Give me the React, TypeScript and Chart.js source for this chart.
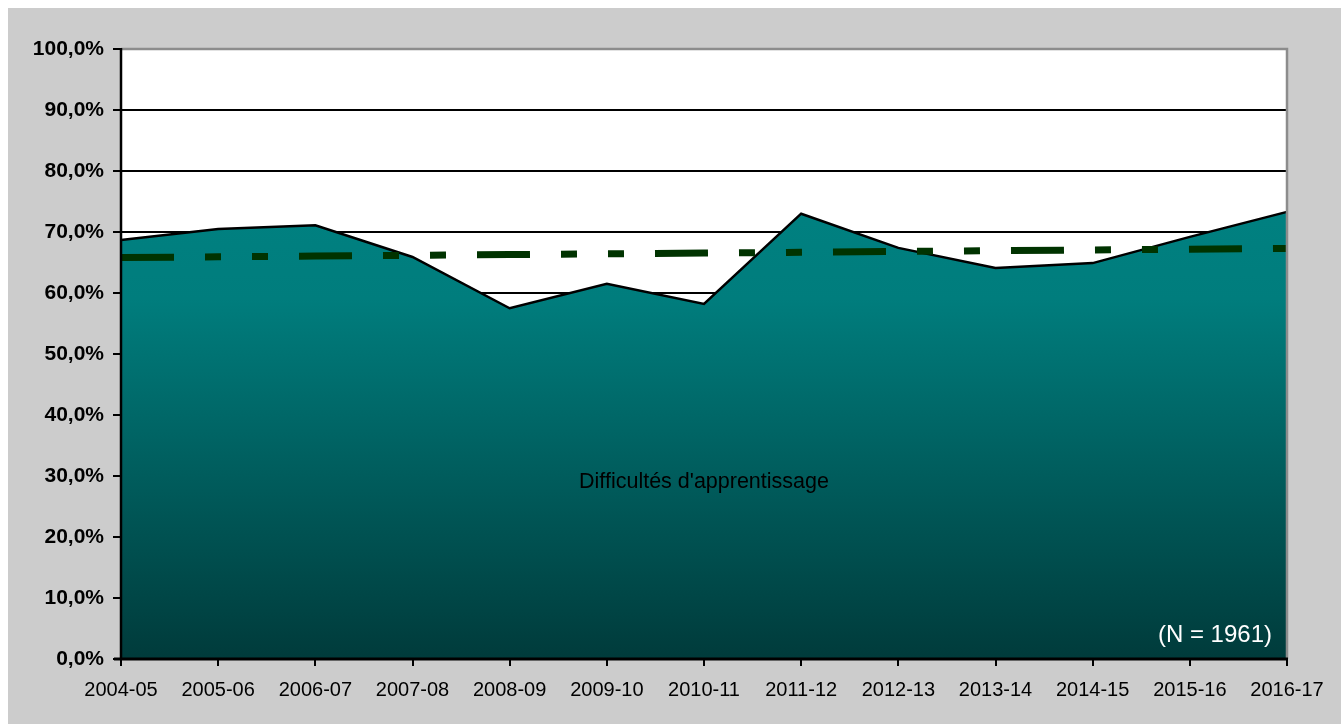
import React, { useEffect, useRef } from "react";
import { Chart, registerables } from "chart.js";

Chart.register(...registerables);

const categories = [
  "2004-05", "2005-06", "2006-07", "2007-08", "2008-09", "2009-10", "2010-11",
  "2011-12", "2012-13", "2013-14", "2014-15", "2015-16", "2016-17",
];

const difficultesValues = [68.7, 70.5, 71.1, 65.9, 57.5, 61.5, 58.2, 73.0, 67.4, 64.1, 64.9, 69.2, 73.3];

const trendValues = [65.8, 65.93, 66.05, 66.18, 66.3, 66.43, 66.55, 66.68, 66.8, 66.93, 67.05, 67.18, 67.3];

const yTickLabels = [
  "0,0%", "10,0%", "20,0%", "30,0%", "40,0%", "50,0%",
  "60,0%", "70,0%", "80,0%", "90,0%", "100,0%",
];

const areaLabel = "Difficultés d'apprentissage";
const noteLabel = "(N = 1961)";

const FONT = "'Liberation Sans', Arial, sans-serif";

export default function App() {
  const canvasRef = useRef<HTMLCanvasElement | null>(null);

  useEffect(() => {
    const canvas = canvasRef.current;
    if (!canvas) return;

    const framePlugin = {
      id: "framePlugin",
      beforeDraw(chart: any) {
        const { ctx, chartArea } = chart;
        ctx.save();
        ctx.fillStyle = "#ffffff";
        ctx.fillRect(chartArea.left, chartArea.top, chartArea.right - chartArea.left, chartArea.bottom - chartArea.top);
        ctx.restore();
      },
      afterDatasetsDraw(chart: any) {
        const { ctx, chartArea } = chart;
        const { left, right, top, bottom } = chartArea;
        ctx.save();
        ctx.strokeStyle = "#8c8c8c";
        ctx.lineWidth = 2.5;
        ctx.beginPath();
        ctx.moveTo(left, top);
        ctx.lineTo(right, top);
        ctx.lineTo(right, bottom);
        ctx.stroke();
        ctx.strokeStyle = "#000000";
        ctx.lineWidth = 2.5;
        ctx.beginPath();
        ctx.moveTo(left, top - 1);
        ctx.lineTo(left, bottom);
        ctx.stroke();
        ctx.lineWidth = 3;
        ctx.beginPath();
        ctx.moveTo(left - 7, bottom);
        ctx.lineTo(right + 1, bottom);
        ctx.stroke();

        const xs = chart.scales.x;
        const ys = chart.scales.y;
        ctx.font = `21.5px ${FONT}`;
        ctx.fillStyle = "#000000";
        ctx.textAlign = "center";
        ctx.textBaseline = "middle";
        const cx = (xs.getPixelForValue(0) + xs.getPixelForValue(categories.length - 1)) / 2;
        ctx.fillText(areaLabel, cx, ys.getPixelForValue(29.0));
        ctx.fillStyle = "#ffffff";
        ctx.textAlign = "right";
        ctx.font = `24px ${FONT}`;
        ctx.fillText(noteLabel, right - 15, ys.getPixelForValue(3.8));
        ctx.restore();
      },
    };

    const chart = new Chart(canvas, {
      type: "line",
      data: {
        labels: categories,
        datasets: [
          {
            label: "Tendance",
            data: trendValues,
            borderColor: "#003300",
            borderWidth: 7,
            borderDash: [53, 31, 16, 31, 16, 31],
            borderCapStyle: "butt",
            fill: false,
            pointRadius: 0,
            tension: 0,
            order: 0,
          },
          {
            label: areaLabel,
            data: difficultesValues,
            borderColor: "#000000",
            borderWidth: 2.5,
            fill: "origin",
            pointRadius: 0,
            tension: 0,
            order: 1,
            backgroundColor: (context: any) => {
              const c = context.chart;
              const area = c.chartArea;
              if (!area) return "#008080";
              const g = c.ctx.createLinearGradient(0, area.top, 0, area.bottom);
              g.addColorStop(0, "#008080");
              g.addColorStop(0.28, "#008080");
              g.addColorStop(0.41, "#007d7d");
              g.addColorStop(1, "#003b3b");
              return g;
            },
          },
        ],
      },
      options: {
        animation: false,
        responsive: false,
        layout: { padding: { left: 0, top: 41, right: 54, bottom: 0 } },
        plugins: {
          legend: { display: false },
          tooltip: { enabled: false },
        },
        scales: {
          x: {
            offset: false,
            border: { display: false },
            grid: {
              drawOnChartArea: false,
              drawTicks: true,
              tickLength: 7,
              tickColor: "#000000",
              lineWidth: 2,
            },
            ticks: {
              color: "#000000",
              font: { family: FONT, size: 20 },
              padding: 12,
              maxRotation: 0,
              autoSkip: false,
            },
            afterFit(scale: any) {
              scale.height = 65;
            },
          },
          y: {
            min: 0,
            max: 100,
            border: { display: false },
            grid: {
              color: (ctx: any) =>
                ctx.tick && (ctx.tick.value === 0 || ctx.tick.value === 100) ? "rgba(0,0,0,0)" : "#000000",
              tickColor: "#000000",
              lineWidth: 2,
              tickLength: 8,
            },
            ticks: {
              stepSize: 10,
              color: "#000000",
              font: { family: FONT, size: 21, weight: "bold" },
              padding: 9,
              callback: (_v: any, i: number) => yTickLabels[i],
            },
            afterFit(scale: any) {
              scale.width = 113;
            },
          },
        },
      },
      plugins: [framePlugin],
    });

    return () => chart.destroy();
  }, []);

  return (
    <div
      style={{
        position: "absolute",
        left: 8,
        top: 8,
        width: 1333,
        height: 716,
        background: "#cccccc",
      }}
    >
      <canvas ref={canvasRef} width={1333} height={716} style={{ display: "block" }} />
    </div>
  );
}
